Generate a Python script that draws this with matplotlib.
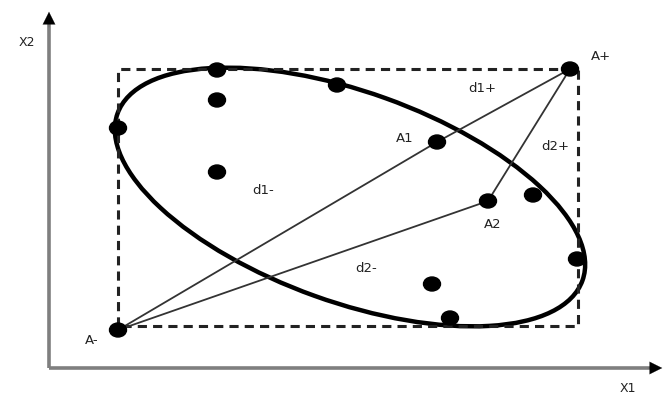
import matplotlib.pyplot as plt
from matplotlib.patches import Ellipse
import numpy as np

# positions (pixel-like units, y grows downward)
a_minus = (118, 330)
a_plus = (570, 69)
a1 = (437, 142)
a2 = (488, 201)

other_x = [217, 337, 217, 118, 217, 533, 577, 432, 450]
other_y = [70, 85, 100, 128, 172, 195, 259, 284, 318]

labels = ["A+", "A-", "A1", "A2", "d1+", "d2+", "d1-", "d2-"]
label_x = [601, 92, 405, 493, 482, 555, 263, 366]
label_y = [57, 341, 138, 224, 89, 146, 191, 268]

# cluster ellipse: centre, axes, tilt
ell_center = (350, 197)
ell_w, ell_h, ell_angle = 494, 210, 19.75

fig = plt.figure(figsize=(6.65, 3.97), dpi=100)
ax = fig.add_axes([0, 0, 1, 1])
ax.set_xlim(0, 665)
ax.set_ylim(397, 0)
ax.axis("off")

# coordinate axes
ax.plot([49, 49], [368, 22], color="#7f7f7f", lw=2.6, solid_capstyle="butt")
ax.plot([49, 652], [368, 368], color="#7f7f7f", lw=2.6, solid_capstyle="butt")
ax.annotate("", xy=(49, 9), xytext=(49, 30),
            arrowprops=dict(arrowstyle="-|>,head_length=0.9,head_width=0.45", color="black", lw=0.1))
ax.annotate("", xy=(665, 368), xytext=(645, 368),
            arrowprops=dict(arrowstyle="-|>,head_length=0.9,head_width=0.45", color="black", lw=0.1))
ax.text(27, 43, "X2", fontsize=9, color="#222222", ha="center", va="center")
ax.text(628, 389, "X1", fontsize=9, color="#222222", ha="center", va="center")

# dashed bounding box between A- and A+
xs = [a_minus[0], a_minus[0], a_plus[0] + 8, a_plus[0] + 8, a_minus[0]]
ys = [a_minus[1] - 4, a_plus[1], a_plus[1], a_minus[1] - 4, a_minus[1] - 4]
ax.plot(xs, ys, color="#222222", lw=2.2, dashes=(3, 2))

# ellipse
ax.add_patch(Ellipse(ell_center, ell_w, ell_h, angle=ell_angle,
                     fill=False, edgecolor="black", lw=3.2))

# distance lines
for p in (a1, a2):
    ax.plot([a_minus[0], p[0], a_plus[0]], [a_minus[1], p[1], a_plus[1]],
            color="#333333", lw=1.3)

# points
px = other_x + [a_minus[0], a_plus[0], a1[0], a2[0]]
py = other_y + [a_minus[1], a_plus[1], a1[1], a2[1]]
for x, y in zip(px, py):
    ax.add_patch(Ellipse((x, y), 17, 14, color="black", zorder=5))

for t, x, y in zip(labels, label_x, label_y):
    ax.text(x, y, t, fontsize=9.5, color="#222222", ha="center", va="center")

fig.savefig("out.png", dpi=100)
